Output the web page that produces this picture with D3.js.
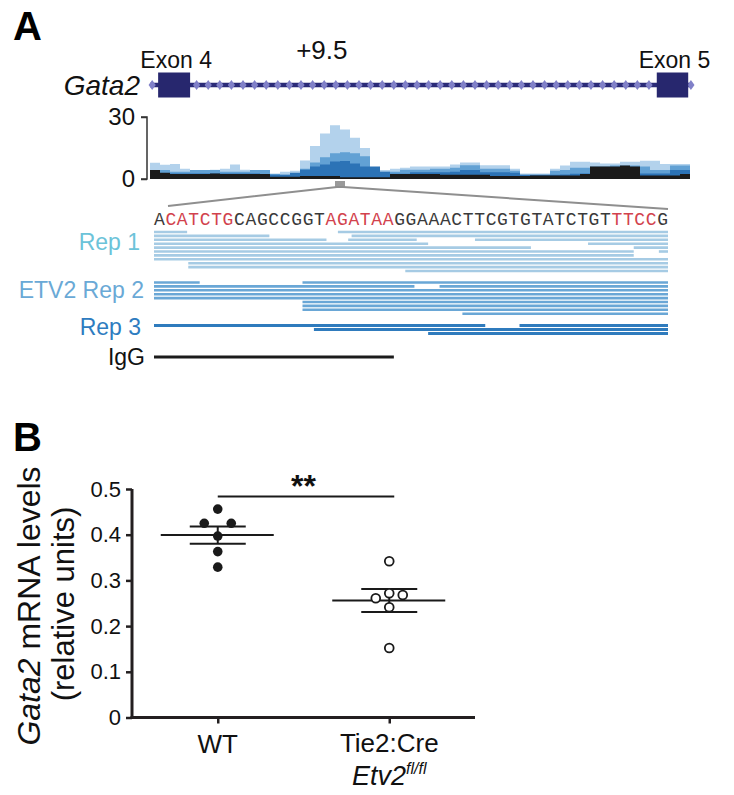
<!DOCTYPE html>
<html><head><meta charset="utf-8">
<script src="https://cdn.jsdelivr.net/npm/d3@7"></script>
<style>body{margin:0;background:#fff}svg{display:block}</style>
</head><body><svg id="c" width="734" height="795" font-family='"Liberation Sans",Arial,Helvetica,sans-serif'></svg>
<script>
// ---------------- DATA ----------------
const geneName = "Gata2";
const exons = [{name:"Exon 4", start:1.5, end:7.4},{name:"Exon 5", start:93.5, end:99.3}];
const elementLabel = "+9.5";
const elementPos = 31.7;
const covTicks = [0, 30];
const covRep1 = [7.9,6.9,7.2,5.0,4.3,4.3,4.5,5.0,7.0,4.5,4.3,3.0,2.7,3.5,4.0,9,16,22,26,24,20,15,5,4.3,5,5.5,6,6,6,6,7,8,8,6.7,6.7,6.7,5,2.7,2.7,2.7,5,6.5,8.3,8.3,8,7.5,7.5,8.3,8.3,8.8,8.8,7.2,7.2,7.2];
const covRep2 = [4.3,4.3,3.5,3.5,4.3,4.3,4.3,3.5,3.5,3.5,4.3,4.3,2.4,2,2.5,5,8,10.5,12.5,13,12.5,11,5,3.5,3.5,4.5,4.5,4.5,5,5,5.5,6.7,6.7,5,5,5,4,2,2,2,4,4.3,5.5,5.5,6,6,6.5,6.5,6.5,6,4.3,4.3,6.5,6.5];
const covRep3 = [2.7,2.7,2.7,2.7,2.7,2.7,2.7,2.7,2.7,2.7,2.7,2.2,2,2,3,4.5,6,7,8.5,8.7,7.5,6,6,3.5,2.5,2.5,3.3,3.3,3.3,3.3,3.5,4.3,4.3,3.3,3.3,3.3,3,2,2,2,2,2.2,2.5,2.7,2.7,2.7,2.7,2.7,2.7,2.7,2.7,2.7,4.3,4.3];
const covIgG = [4.3,3.0,2.4,2.4,2.4,2.4,2.7,2.4,2.4,2.4,2.4,2.4,1.1,1.1,1.1,1.4,1.4,1.4,1.4,0.8,0.8,0.8,0.8,0.8,2.4,2.4,2.4,2.4,2.4,2,2,2,2,2,1.4,1.4,1.4,1.4,1.7,1.7,1.7,1.7,1.7,2.4,6,6,6,6.5,6,1.7,1.7,1.7,1.7,2.4];
const peakBin = 19;
const sequence = "ACATCTGCAGCCGGTAGATAAGGAAACTTCGTGTATCTGTTTCCG";
const motifs = [[1,7],[15,21],[40,44]];
const readsRep1 = [
  [[0,2.9],[16.1,45]],[[0,10.1],[17.3,45]],[[0,15.1],[17,23],[28.1,45]],[[0,24],[38,45]],
  [[0,33],[42,45]],[[0,42],[44.2,45]],[[0,42]],[[0,45]],[[3,45]],[[3,45]],[[22,45]]];
const readsRep2 = [
  [[0,4],[13,45]],[[0,22.8],[25,45]],[[0,45]],[[0,45]],[[0,45]],[[13,45]],[[13,45]],[[13,45]],[[27,45]]];
const readsRep3 = [[[0,29],[32,45]],[[14,45]],[[24,45]]];
const readsIgG = [[[0,21]]];
const trackLabels = ["Rep 1","ETV2 Rep 2","Rep 3","IgG"];

const groups = ["WT","Tie2:Cre"];
const wtValues = [0.397,0.363,0.329,0.456,0.425,0.425];
const koValues = [0.342,0.272,0.241,0.152,0.261,0.268];
const yTicks = [0,0.1,0.2,0.3,0.4,0.5];
const sigLabel = "**";

// ---------------- DRAW ----------------
const SANS = '"Liberation Sans",Arial,Helvetica,sans-serif';
const MONO = '"Liberation Mono","Courier New",monospace';
const svg = d3.select("#c");

svg.append("text").attr("x",13).attr("y",40).attr("font-size",40).attr("font-weight",900).text("A");
svg.append("text").attr("x",13).attr("y",451).attr("font-size",40).attr("font-weight",900).text("B");

// Gene model
const gx = d3.scaleLinear().domain([0,100]).range([150,692]);
const geneY = 85;
svg.append("line").attr("x1",gx(0)).attr("x2",gx(100)).attr("y1",geneY).attr("y2",geneY)
  .attr("stroke","#2b2b78").attr("stroke-width",4.5);
const diamonds = d3.range(exons[0].end+1.2, exons[1].start-0.6, 2.14).concat([0.4, 99.8]);
svg.append("g").selectAll("path").data(diamonds).join("path")
  .attr("transform",d=>`translate(${gx(d)},${geneY})`)
  .attr("d","M0,-5L3.6,0L0,5L-3.6,0Z").attr("fill","#8080c8");
svg.append("g").selectAll("rect").data(exons).join("rect")
  .attr("x",d=>gx(d.start)).attr("width",d=>gx(d.end)-gx(d.start))
  .attr("y",geneY-12.5).attr("height",25).attr("fill","#27276e");
svg.append("g").selectAll("text").data(exons).join("text")
  .attr("x",d=>gx((d.start+d.end)/2)+2).attr("y",68).attr("text-anchor","middle")
  .attr("font-size",23).attr("fill","#111").text(d=>d.name);
svg.append("text").attr("x",gx(elementPos)).attr("y",59).attr("text-anchor","middle")
  .attr("font-size",26).attr("fill","#111").text(elementLabel);
svg.append("text").attr("x",140).attr("y",95).attr("text-anchor","end").attr("font-size",28)
  .attr("font-style","italic").attr("fill","#111").text(geneName);

// Coverage
const cx = d3.scaleLinear().domain([0,covRep1.length]).range([150,690]);
const cy = d3.scaleLinear().domain([0,30]).range([179,117]);
const covSeries = [[covRep1,"#b3d2ec"],[covRep2,"#62a1d4"],[covRep3,"#2c73b6"],[covIgG,"#1b1b1b"]];
const area = d3.area().curve(d3.curveStepAfter).x((d,i)=>cx(i)).y0(cy(0)).y1(d=>cy(d));
covSeries.forEach(([vals,col])=>{
  svg.append("path").datum(vals.concat([vals[vals.length-1]])).attr("d",area).attr("fill",col);
});
const covAxis = svg.append("g").attr("transform","translate(147,0)")
  .call(d3.axisLeft(cy).tickValues(covTicks).tickSize(6).tickPadding(6).tickFormat(d3.format("d")));
covAxis.attr("font-family",SANS);
covAxis.select(".domain").attr("stroke","#333").attr("stroke-width",1.5).attr("d","M-6,"+cy(30)+"H0V"+cy(0)+"H-6");
covAxis.selectAll(".tick line").attr("stroke","#333").attr("stroke-width",1.5);
covAxis.selectAll("text").attr("font-size",24).attr("fill","#111");

// Sequence zoom
const sx = d3.scaleLinear().domain([0,sequence.length]).range([154,668]);
const boxL = cx(peakBin-0.5), boxR = cx(peakBin+0.5);
svg.append("rect").attr("x",boxL).attr("y",181).attr("width",boxR-boxL).attr("height",7).attr("fill","#9a9a9a");
svg.append("path").attr("d",`M${sx(0)+14},206L${boxL+2},187H${boxR-2}L${sx(sequence.length)},209`)
  .attr("fill","none").attr("stroke","#8f8f8f").attr("stroke-width",2);
// split sequence into colored runs
const runs = [];
sequence.split("").forEach((ch,i)=>{
  const red = motifs.some(([a,b])=>i>=a && i<b);
  if(runs.length && runs[runs.length-1].red===red) runs[runs.length-1].s+=ch;
  else runs.push({s:ch,red});
});
const seqText = svg.append("text").attr("x",sx(0)).attr("y",225)
  .attr("font-family",MONO).attr("font-size",18)
  .attr("textLength",sx(sequence.length)-sx(0)).attr("lengthAdjust","spacing");
seqText.selectAll("tspan").data(runs).join("tspan")
  .attr("fill",d=>d.red?"#d2424d":"#3a3a3a").text(d=>d.s);

// Reads
function drawReads(rows, y0, step, col, sw){
  rows.forEach((segs,k)=>{
    svg.append("g").selectAll("line").data(segs).join("line")
      .attr("x1",d=>sx(d[0])).attr("x2",d=>sx(d[1]))
      .attr("y1",y0+k*step).attr("y2",y0+k*step).attr("stroke",col).attr("stroke-width",sw);
  });
}
drawReads(readsRep1, 232, 3.9, "#a6cbe4", 2.6);
drawReads(readsRep2, 282.5, 3.9, "#6aa7d6", 2.6);
drawReads(readsRep3, 325.5, 4, "#2f7bbd", 2.8);
drawReads(readsIgG, 357, 4, "#1b1b1b", 3);
const labelSpec = [[trackLabels[0],140,250,"#6cc3d9"],[trackLabels[1],144,298,"#6aa9d6"],[trackLabels[2],141,335,"#2e7cc0"],[trackLabels[3],145,365,"#111"]];
svg.append("g").selectAll("text").data(labelSpec).join("text")
  .attr("x",d=>d[1]).attr("y",d=>d[2]).attr("text-anchor","end").attr("font-size",23)
  .attr("fill",d=>d[3]).text(d=>d[0]);

// ---------------- Panel B ----------------
const bx = d3.scalePoint().domain(groups).range([132,475]).padding(0.5);
const by = d3.scaleLinear().domain([0,0.5]).range([717.5,489]);
const yAx = svg.append("g").attr("transform","translate(132,0)")
  .call(d3.axisLeft(by).tickValues(yTicks).tickSize(6).tickPadding(5).tickFormat(d=>d===0?"0":d3.format(".1f")(d)));
yAx.attr("font-family",SANS);
yAx.select(".domain").attr("stroke","#231f20").attr("stroke-width",3).attr("d",`M0,${by(0.5)}V${by(0)}`);
yAx.selectAll(".tick line").attr("stroke","#231f20").attr("stroke-width",2.5);
yAx.selectAll("text").attr("font-size",22).attr("fill","#111");
const xAx = svg.append("g").attr("transform",`translate(0,${by(0)})`)
  .call(d3.axisBottom(bx).tickSize(6).tickFormat(""));
xAx.select(".domain").attr("stroke","#231f20").attr("stroke-width",3).attr("d",`M130.5,0H475`);
xAx.selectAll(".tick line").attr("stroke","#231f20").attr("stroke-width",2.5);
svg.append("text").attr("x",bx(groups[0])).attr("y",753).attr("text-anchor","middle").attr("font-size",26).attr("fill","#111").text(groups[0]);
svg.append("text").attr("x",bx(groups[1])).attr("y",752).attr("text-anchor","middle").attr("font-size",26).attr("fill","#111").text(groups[1]);
const et = svg.append("text").attr("x",bx(groups[1])).attr("y",785).attr("text-anchor","middle").attr("fill","#111");
et.append("tspan").attr("font-size",27).attr("font-style","italic").text("Etv2");
et.append("tspan").attr("font-size",16).attr("font-style","italic").attr("dy",-11).text("fl/fl");
const yl = svg.append("text").attr("transform","translate(40,606) rotate(-90)").attr("text-anchor","middle").attr("font-size",32).attr("fill","#111");
yl.append("tspan").attr("font-style","italic").text("Gata2");
yl.append("tspan").text(" mRNA levels");
svg.append("text").attr("transform","translate(74,604) rotate(-90)").attr("text-anchor","middle").attr("font-size",31).attr("fill","#111").text("(relative units)");

function swarm(vals, cxp){
  const placed=[]; const s=13.5, minD=13;
  return vals.map(v=>{
    const y=by(v);
    let x=cxp;
    for(const o of [0,-s,s,-2*s,2*s]){
      if(!placed.some(p=>Math.hypot(p.x-(cxp+o),p.y-y)<minD)){x=cxp+o;break;}
    }
    const p={x,y,v}; placed.push(p); return p;
  });
}
function stats(vals){const m=d3.mean(vals);const se=d3.deviation(vals)/Math.sqrt(vals.length);return {m,se};}
[[wtValues,groups[0],true],[koValues,groups[1],false]].forEach(([vals,g,filled])=>{
  const c=bx(g); const st=stats(vals);
  const gg=svg.append("g");
  gg.append("line").attr("x1",c-57).attr("x2",c+56).attr("y1",by(st.m)).attr("y2",by(st.m)).attr("stroke","#1a1a1a").attr("stroke-width",2);
  gg.append("line").attr("x1",c).attr("x2",c).attr("y1",by(st.m+st.se)).attr("y2",by(st.m-st.se)).attr("stroke","#1a1a1a").attr("stroke-width",2);
  [st.m+st.se, st.m-st.se].forEach(v=>gg.append("line").attr("x1",c-28).attr("x2",c+28).attr("y1",by(v)).attr("y2",by(v)).attr("stroke","#1a1a1a").attr("stroke-width",2));
  gg.selectAll("circle").data(swarm(vals,c)).join("circle").attr("cx",d=>d.x).attr("cy",d=>d.y).attr("r",filled?4.8:4.4)
    .attr("fill",filled?"#1a1a1a":"#fff").attr("stroke","#1a1a1a").attr("stroke-width",filled?0:1.8);
});
svg.append("line").attr("x1",bx(groups[0])).attr("x2",bx(groups[1])+5).attr("y1",496.5).attr("y2",496.5).attr("stroke","#1a1a1a").attr("stroke-width",2);
svg.append("text").attr("x",(bx(groups[0])+bx(groups[1]))/2).attr("y",497).attr("text-anchor","middle").attr("font-size",32).attr("font-weight","bold").attr("fill","#111").text(sigLabel);
</script></body></html>
